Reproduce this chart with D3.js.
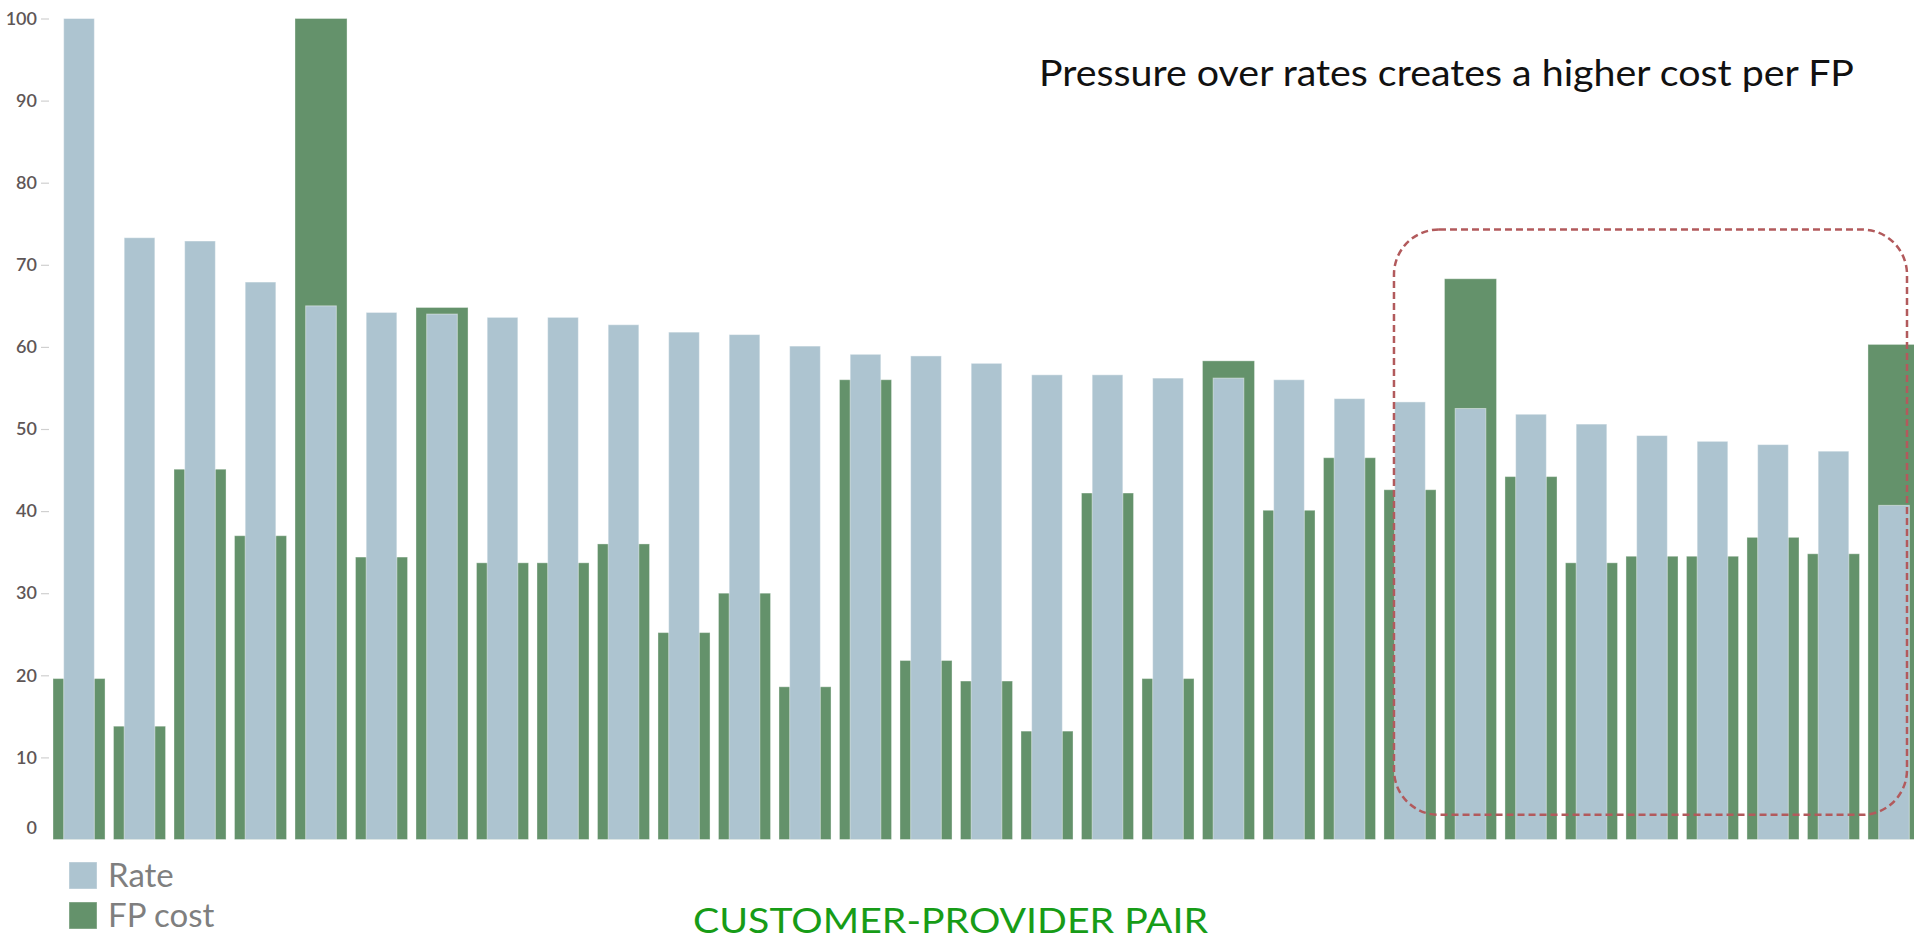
<!DOCTYPE html>
<html>
<head>
<meta charset="utf-8">
<script src="https://cdn.jsdelivr.net/npm/d3@7"></script>
<style>
  body { margin: 0; background: #fff; }
  svg { display: block; }
</style>
</head>
<body>
<div id="viz"></div>
<script>
// customer-provider pairs, sorted by rate
var categories = ['P01','P02','P03','P04','P05','P06','P07','P08','P09','P10',
                  'P11','P12','P13','P14','P15','P16','P17','P18','P19','P20',
                  'P21','P22','P23','P24','P25','P26','P27','P28','P29','P30','P31'];
var rate = [100, 73.3, 72.9, 67.9, 65.0, 64.2, 64.0, 63.6, 63.6, 62.7,
            61.8, 61.5, 60.1, 59.1, 58.9, 58.0, 56.6, 56.6, 56.2, 56.2,
            56.0, 53.7, 53.3, 52.5, 51.8, 50.6, 49.2, 48.5, 48.1, 47.3, 40.7];
var fpCost = [19.6, 13.8, 45.1, 37.0, 100, 34.4, 64.8, 33.7, 33.7, 36.0,
              25.2, 30.0, 18.6, 56.0, 21.8, 19.3, 13.2, 42.2, 19.6, 58.3,
              40.1, 46.5, 42.6, 68.3, 44.2, 33.7, 34.5, 34.5, 36.8, 34.8, 60.3];
var yTicks = [0, 10, 20, 30, 40, 50, 60, 70, 80, 90, 100];
var seriesNames = ['Rate', 'FP cost'];
var title = 'Pressure over rates creates a higher cost per FP';
var xTitle = 'CUSTOMER-PROVIDER PAIR';
// highlighted pairs (annotation box)
var highlightFrom = 'P23', highlightTop = 74.3, highlightBottom = 3;

var width = 1914, height = 943;
var rateColor = '#adc4d0', costColor = '#64926b';

var svg = d3.select('#viz').append('svg')
  .attr('width', width)
  .attr('height', height);

var xScale = d3.scaleBand()
  .domain(categories)
  .range([53, 1920])
  .paddingInner(0.14)
  .paddingOuter(0);

var yScale = d3.scaleLinear()
  .domain([0, 100])
  .range([839.5, 18.5]);

// y axis
var yAxis = d3.axisLeft(yScale)
  .tickValues(yTicks)
  .tickSize(8)
  .tickPadding(4);

var yGuide = svg.append('g')
  .attr('transform', 'translate(49,0)')
  .call(yAxis);
yGuide.select('.domain').remove();
yGuide.selectAll('line').attr('stroke', '#d0d0d0').attr('stroke-width', 1.2);
yGuide.selectAll('text')
  .style('font-family', 'Lato, "Open Sans", sans-serif')
  .style('font-size', '18px')
  .style('font-weight', 600)
  .attr('fill', '#5e5656');
// the zero label sits a bit higher and has no tick
yGuide.selectAll('.tick').filter(function(d) { return d === 0; })
  .each(function() {
    d3.select(this).select('line').remove();
    d3.select(this).select('text').attr('dy', '-0.35em');
  });

// FP cost (wide, behind)
svg.append('g').selectAll('rect').data(fpCost)
  .enter().append('rect')
    .attr('x', function(d, i) { return xScale(categories[i]); })
    .attr('width', xScale.bandwidth())
    .attr('y', function(d) { return yScale(d); })
    .attr('height', function(d) { return yScale(0) - yScale(d); })
    .attr('fill', costColor)
    .attr('stroke', '#ffffff')
    .attr('stroke-opacity', 0.35)
    .attr('stroke-width', 1);

// Rate (narrow, on top)
var rateW = xScale.bandwidth() * 0.59;
svg.append('g').selectAll('rect').data(rate)
  .enter().append('rect')
    .attr('x', function(d, i) { return xScale(categories[i]) + (xScale.bandwidth() - rateW) / 2; })
    .attr('width', rateW)
    .attr('y', function(d) { return yScale(d); })
    .attr('height', function(d) { return yScale(0) - yScale(d); })
    .attr('fill', rateColor)
    .attr('stroke', '#ffffff')
    .attr('stroke-opacity', 0.45)
    .attr('stroke-width', 1);

// annotation box
var boxX = xScale(highlightFrom) + 10;
svg.append('rect')
  .attr('x', boxX)
  .attr('y', yScale(highlightTop))
  .attr('width', width - 7 - boxX)
  .attr('height', yScale(highlightBottom) - yScale(highlightTop))
  .attr('rx', 45)
  .attr('ry', 45)
  .attr('fill', 'none')
  .attr('stroke', '#b25a5c')
  .attr('stroke-width', 2.5)
  .attr('stroke-dasharray', '7,4');

// title
svg.append('text')
  .attr('x', 1039)
  .attr('y', 86)
  .attr('textLength', 815)
  .attr('lengthAdjust', 'spacingAndGlyphs')
  .style('font-family', 'Lato, "Open Sans", sans-serif')
  .style('font-size', '36px')
  .attr('fill', '#111')
  .text(title);

// legend
var legend = svg.append('g').selectAll('g').data(seriesNames)
  .enter().append('g')
    .attr('transform', function(d, i) { return 'translate(69,' + (862 + i * 40) + ')'; });
legend.append('rect')
  .attr('width', 28)
  .attr('height', 27)
  .attr('fill', function(d, i) { return i === 0 ? rateColor : costColor; })
  .attr('stroke', '#ffffff')
  .attr('stroke-opacity', 0.4);
legend.append('text')
  .attr('x', 39)
  .attr('y', 25)
  .style('font-family', 'Lato, "Open Sans", sans-serif')
  .style('font-size', '33px')
  .attr('fill', '#7f7f7f')
  .text(function(d) { return d; });

// x axis title
svg.append('text')
  .attr('x', 693)
  .attr('y', 933)
  .attr('textLength', 515)
  .attr('lengthAdjust', 'spacingAndGlyphs')
  .style('font-family', 'Lato, "Open Sans", sans-serif')
  .style('font-size', '35px')
  .attr('fill', '#179c17')
  .text(xTitle);
</script>
</body>
</html>
